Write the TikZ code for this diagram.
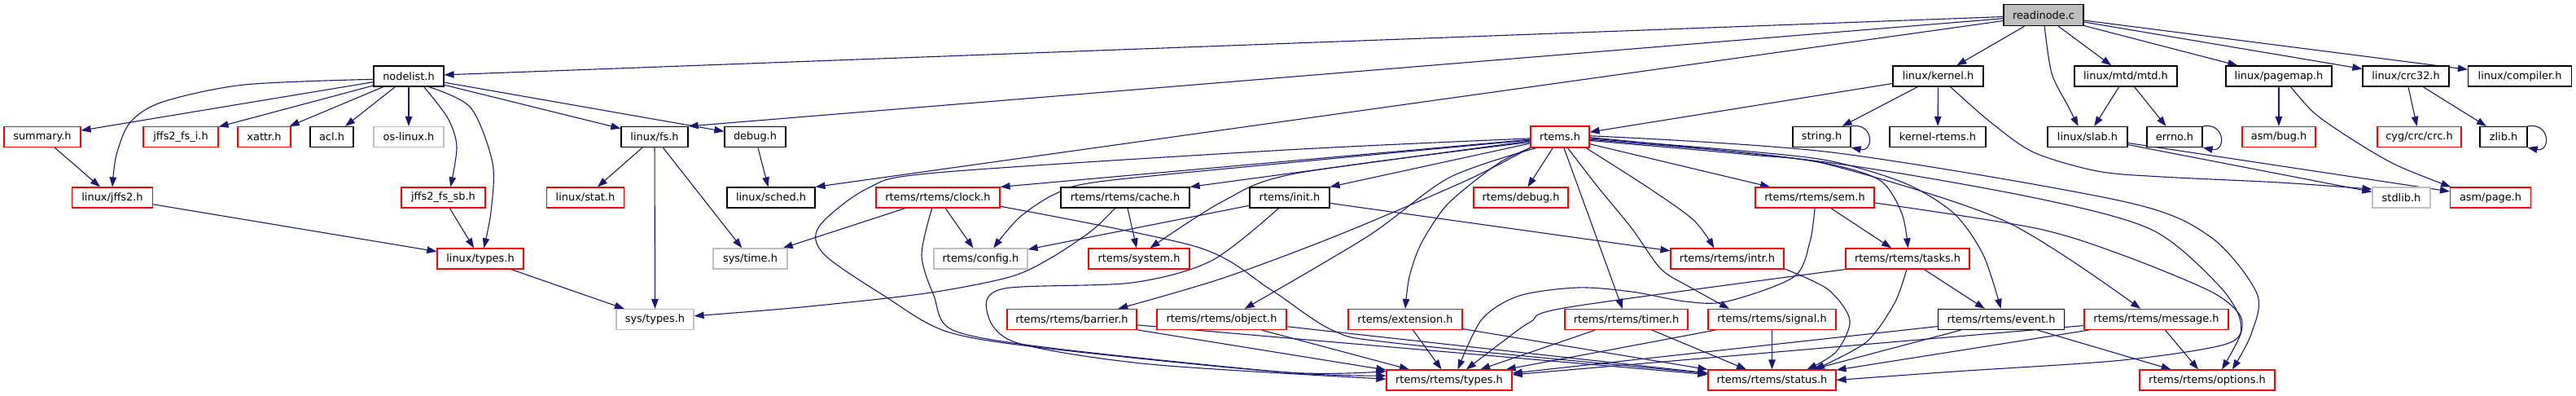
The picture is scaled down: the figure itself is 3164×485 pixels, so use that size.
\documentclass[tikz,border=0pt]{standalone}
\usepackage{fontspec}
\setmainfont{DejaVu Sans}
\usetikzlibrary{arrows.meta}
\pgfdeclarelayer{back}
\pgfdeclarelayer{bg}
\pgfsetlayers{back,bg,main}
\definecolor{edgec}{HTML}{191970}
\definecolor{greyc}{HTML}{BFBFBF}
\definecolor{redc}{HTML}{FF0000}
\tikzset{
  box/.style={draw, rectangle, fill=white, inner sep=0pt, minimum height=25pt,
    font=\fontsize{12.9}{15}\selectfont, line width=1.2pt},
  doc/.style={box, draw=black},
  undoc/.style={box, draw=redc},
  miss/.style={box, draw=greyc},
  edge/.style={draw=edgec, line width=1.1pt, -{Triangle[length=12pt,width=8.5pt]}},
}
\begin{document}
\begin{tikzpicture}[x=1pt,y=-1pt]
\begin{pgfonlayer}{back}
\fill[white] (0,0) rectangle (3164,485);
\end{pgfonlayer}
\useasboundingbox (0,0) rectangle (3164,485);

% row 0
\node[doc, fill=greyc, minimum width=98pt, minimum height=26pt] (readinode) at (2510,18.7) {readinode.c};
% row 1
\node[doc, minimum width=86pt] (nodelist) at (502,93.5) {nodelist.h};
\node[doc, minimum width=111pt] (lkernel) at (2380.5,93.5) {linux/kernel.h};
\node[doc, minimum width=126pt] (mtd) at (2611,93.5) {linux/mtd/mtd.h};
\node[doc, minimum width=130pt] (pagemap) at (2799,93.5) {linux/pagemap.h};
\node[doc, minimum width=106pt] (crc32) at (2955,93.5) {linux/crc32.h};
\node[doc, minimum width=127pt] (compiler) at (3095,93.5) {linux/compiler.h};
% row 2
\node[undoc, minimum width=94pt] (summary) at (52,168) {summary.h};
\node[undoc, minimum width=92pt] (fsi) at (222,168) {jffs2\_fs\_i.h};
\node[undoc, minimum width=65pt] (xattr) at (324.5,168) {xattr.h};
\node[doc, minimum width=53pt] (acl) at (407.5,168) {acl.h};
\node[miss, minimum width=86pt] (oslinux) at (502,168) {os-linux.h};
\node[doc, minimum width=82pt] (fs) at (804,168) {linux/fs.h};
\node[doc, minimum width=75pt] (debug) at (927.5,168) {debug.h};
\node[undoc, minimum width=72pt, minimum height=26pt] (rtems) at (1916,168) {rtems.h};
\node[doc, minimum width=71pt] (string) at (2237.5,168) {string.h};
\node[doc, minimum width=118pt] (kernrtems) at (2380,168) {kernel-rtems.h};
\node[doc, minimum width=98pt] (slab) at (2564,168) {linux/slab.h};
\node[doc, minimum width=68pt] (errno) at (2671,168) {errno.h};
\node[undoc, minimum width=90pt] (bug) at (2799,168) {asm/bug.h};
\node[undoc, minimum width=103pt] (crc) at (2971.5,168) {cyg/crc/crc.h};
\node[doc, minimum width=58pt] (zlib) at (3075,168) {zlib.h};
% row 3
\node[undoc, minimum width=99pt] (jffs2) at (138,242.5) {linux/jffs2.h};
\node[undoc, minimum width=103pt] (fssb) at (544.5,242.5) {jffs2\_fs\_sb.h};
\node[undoc, minimum width=95pt] (stat) at (719,242.5) {linux/stat.h};
\node[doc, minimum width=108pt] (sched) at (947,242.5) {linux/sched.h};
\node[undoc, minimum width=152pt] (clock) at (1152,242.5) {rtems/rtems/clock.h};
\node[doc, minimum width=158pt] (cache) at (1382,242.5) {rtems/rtems/cache.h};
\node[doc, minimum width=98pt] (init) at (1584,242.5) {rtems/init.h};
\node[undoc, minimum width=116pt] (rdebug) at (1868,242.5) {rtems/debug.h};
\node[undoc, minimum width=146pt] (sem) at (2229,242.5) {rtems/rtems/sem.h};
\node[miss, minimum width=71pt] (stdlib) at (2949.5,242.5) {stdlib.h};
\node[undoc, minimum width=99pt] (page) at (3059,242.5) {asm/page.h};
% row 4
\node[undoc, minimum width=106pt] (ltypes) at (590,317.5) {linux/types.h};
\node[miss, minimum width=91pt] (time) at (921.5,317.5) {sys/time.h};
\node[miss, minimum width=115pt] (config) at (1204.5,317.5) {rtems/config.h};
\node[undoc, minimum width=124pt] (system) at (1399,317.5) {rtems/system.h};
\node[undoc, minimum width=139pt] (intr) at (2121.5,317.5) {rtems/rtems/intr.h};
\node[undoc, minimum width=152pt] (tasks) at (2343,317.5) {rtems/rtems/tasks.h};
% row 5
\node[miss, minimum width=95pt] (systypes) at (804.5,392) {sys/types.h};
\node[undoc, minimum width=159pt] (barrier) at (1316.5,392) {rtems/rtems/barrier.h};
\node[undoc, minimum width=159pt] (object) at (1500.5,392) {rtems/rtems/object.h};
\node[undoc, minimum width=140pt] (extension) at (1726,392) {rtems/extension.h};
\node[undoc, minimum width=151pt] (timer) at (1997.5,392) {rtems/rtems/timer.h};
\node[undoc, minimum width=157pt] (signal) at (2176.5,392) {rtems/rtems/signal.h};
\node[doc, minimum width=155pt] (event) at (2458,392) {rtems/rtems/event.h};
\node[undoc, minimum width=177pt] (message) at (2648.5,392) {rtems/rtems/message.h};
% row 6
\node[undoc, minimum width=154pt] (types) at (1780,466.5) {rtems/rtems/types.h};
\node[undoc, minimum width=157pt] (status) at (2176.5,466.5) {rtems/rtems/status.h};
\node[undoc, minimum width=166pt] (options) at (2711,466.5) {rtems/rtems/options.h};

\begin{pgfonlayer}{bg}
% readinode.c
\draw[edge] (readinode) -- (nodelist);
\draw[edge] (readinode) -- (fs.north east);
\draw[edge] (readinode) -- (sched.north east);
\draw[edge] (readinode) -- (lkernel);
\draw[edge] (readinode) -- (mtd);
\draw[edge] (readinode) -- (pagemap);
\draw[edge] (readinode) -- (crc32);
\draw[edge] (readinode) -- (compiler);
\draw[edge] plot[smooth] coordinates {(readinode.-85) (2520,90) (2540,130) (slab.131)};
% nodelist.h
\draw[edge] (nodelist) -- (summary);
\draw[edge] (nodelist) -- (fsi);
\draw[edge] (nodelist) -- (xattr);
\draw[edge] (nodelist) -- (acl);
\draw[edge] (nodelist) -- (oslinux);
\draw[edge] (nodelist) -- (fs);
\draw[edge] (nodelist) -- (debug);
\draw[edge] plot[smooth] coordinates {(nodelist.185) (300,104) (200,125) (160,150) (143,190) (jffs2.north)};
\draw[edge] plot[smooth] coordinates {(nodelist.-35) (550,145) (561,180) (fssb.56)};
\draw[edge] plot[smooth] coordinates {(nodelist.-28) (578,132) (605,200) (603,260) (ltypes.72)};
% linux side
\draw[edge] (summary) -- (jffs2);
\draw[edge] (jffs2) -- (ltypes);
\draw[edge] (fssb) -- (ltypes);
\draw[edge] (ltypes) -- (systypes);
\draw[edge] (fs) -- (stat);
\draw[edge] (fs) -- (systypes);
\draw[edge] (fs) -- (time);
\draw[edge] (debug) -- (sched);
% linux/kernel.h etc
\draw[edge] (lkernel) -- (rtems);
\draw[edge] (lkernel) -- (string);
\draw[edge] (lkernel) -- (kernrtems);
\draw[edge] plot[smooth] coordinates {(lkernel.-41) (2445,150) (2498,187) (2576,210) (2655,217) (2800,224) (stdlib.164)};
\draw[edge] (string.north east) .. controls (2302,150) and (2302,187) .. (string.south east);
\draw[edge] (mtd) -- (slab);
\draw[edge] (mtd) -- (errno);
\draw[edge] (errno.north east) .. controls (2734,150) and (2734,187) .. (errno.south east);
\draw[edge] (slab) -- (stdlib);
\draw[edge] (slab) -- (page);
\draw[edge] (pagemap) -- (bug);
\draw[edge] plot[smooth] coordinates {(pagemap.-42) (2844,140) (2892,173) (2944,203) (page.165)};
\draw[edge] (crc32) -- (crc);
\draw[edge] (crc32) -- (zlib);
\draw[edge] (zlib.north east) .. controls (3133,150) and (3133,187) .. (zlib.south east);
% rtems.h
\draw[edge] (rtems) -- (clock.north east);
\draw[edge] (rtems) -- (cache.north east);
\draw[edge] (rtems) -- (init.north east);
\draw[edge] plot[smooth] coordinates {(rtems.186) (1580,200) (1350,223) (1296,238) (1252,267) (config.40)};
\draw[edge] plot[smooth] coordinates {(rtems.190) (1591,213) (1502,247) (system.44)};
\draw[edge] plot[smooth] coordinates {(rtems.183) (1580,184) (1150,212) (1066,231) (1006,278) (1012,312) (1086,363) (1163,407) (1290,428) (1580,457) (types.172)};
\draw[edge] plot[smooth] coordinates {(rtems.200) (1800,222) (1640,290) (1500,342) (barrier.13)};
\draw[edge] plot[smooth] coordinates {(rtems.205) (1780,218) (1680,290) (object.25)};
\draw[edge] plot[smooth] coordinates {(rtems.south west) (1846,197) (1810,223) (1774,255) (1745,300) (1731,340) (extension.north)};
\draw[edge] (rtems) -- (rdebug);
\draw[edge] (rtems) -- (timer);
\draw[edge] plot[smooth] coordinates {(rtems.-55) (1963,230) (2004,280) (2040,330) (2075,352) (signal.166)};
\draw[edge] plot[smooth] coordinates {(rtems.-23) (2024,230) (2080,270) (intr.141)};
\draw[edge] (rtems) -- (sem);
\draw[edge] plot[smooth] coordinates {(rtems.-5) (2150,188) (2250,202) (2310,222) (2336,262) (tasks.88)};
\draw[edge] plot[smooth] coordinates {(rtems.-3) (2150,186) (2250,198) (2340,225) (2400,262) (2436,313) (event.92)};
\draw[edge] plot[smooth] coordinates {(rtems.-7) (2150,190) (2250,203) (2464,272) (message.146)};
\draw[edge] plot[smooth] coordinates {(rtems.2) (2250,187) (2607,247) (2714,290) (2772,360) (2765,410) (options.23)};
\draw[edge] plot[smooth] coordinates {(rtems.-1) (2250,200) (2500,243) (2643,282) (2725,350) (2752,395) (2735,422) (2607,442) (2400,456) (status.east)};
% clock / cache / init
\draw[edge] (clock) -- (time);
\draw[edge] (clock) -- (config);
\draw[edge] plot[smooth] coordinates {(clock.-119) (1132,313) (1147,363) (1170,405) (1290,427) (1580,457) (types.176)};
\draw[edge] plot[smooth] coordinates {(clock.-8) (1470,303) (1560,355) (1636,405) (1713,421) (status.174)};
\draw[edge] (cache) -- (system);
\draw[edge] plot[smooth] coordinates {(cache.-134) (1341,283) (1290,317) (1240,340) (1137,360) (984,377) (systypes.5)};
\draw[edge] (init) -- (config);
\draw[edge] (init) -- (intr);
\draw[edge] plot[smooth] coordinates {(init.-136) (1488,320) (1390,347) (1234,354) (1212,381) (1247,420) (1412,447) (types.179)};
% sem / intr / tasks
\draw[edge] (sem) -- (tasks);
\draw[edge] plot[smooth] coordinates {(sem.south) (2223,297) (2203,340) (2121,370) (2070,370) (2004,358) (1938,353) (1866,363) (1820,392) (types.51)};
\draw[edge] plot[smooth] coordinates {(sem.-5) (2500,280) (2607,313) (2714,357) (2750,385) (2752,410) (options.36)};
\draw[edge] plot[smooth] coordinates {(intr.-10) (2245,355) (2272,393) (2255,432) (status.17)};
\draw[edge] (tasks) -- (event);
\draw[edge] plot[smooth] coordinates {(tasks.-95) (2327,372) (2292,420) (status.14)};
\draw[edge] plot[smooth] coordinates {(tasks.south west) (1927,377) (1880,395) (1846,419) (types.32)};
% lower row
\draw[edge] (barrier) -- (types);
\draw[edge] (barrier) -- (status);
\draw[edge] (object) -- (types);
\draw[edge] (object) -- (status);
\draw[edge] (extension) -- (types);
\draw[edge] (extension) -- (status);
\draw[edge] (timer) -- (types);
\draw[edge] (timer) -- (status);
\draw[edge] (signal) -- (types);
\draw[edge] (signal) -- (status);
\draw[edge] (event) -- (types);
\draw[edge] (event) -- (status);
\draw[edge] (event) -- (options);
\draw[edge] (message) -- (types);
\draw[edge] (message) -- (status);
\draw[edge] (message) -- (options);
\end{pgfonlayer}
\end{tikzpicture}
\end{document}
